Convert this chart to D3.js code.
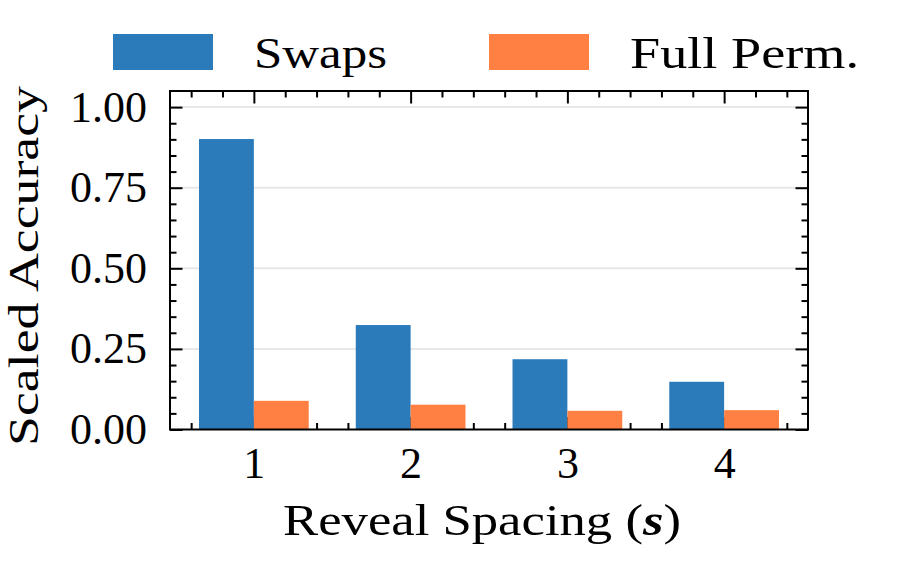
<!DOCTYPE html>
<html>
<head>
<meta charset="utf-8">
<script src="https://cdn.jsdelivr.net/npm/d3@7"></script>
<style>
body { margin: 0; background: #fff; }
svg text { font-family: "Liberation Serif", serif; fill: #000; }
.axis path.domain { display: none; }
.axis line { stroke: #000; stroke-width: 2; }
.axis text { font-family: "Liberation Serif", serif; font-size: 44px; }
</style>
</head>
<body>
<svg id="chart" width="900" height="571"></svg>
<script>
// data
const categories = ["1", "2", "3", "4"];
const swaps = [0.901, 0.324, 0.218, 0.148];
const fullPerm = [0.089, 0.077, 0.058, 0.060];
const seriesNames = ["Swaps", "Full Perm."];
const yTicks = [0, 0.25, 0.5, 0.75, 1.0];
const yTickLabels = ["0.00", "0.25", "0.50", "0.75", "1.00"];
const colors = ["#2b7bba", "#ff8042"];

const svg = d3.select("#chart");
const mLeft = 170, mRight = 808, mTop = 91, mBottom = 429.5;
const barW = 0.35;

let x = d3.scaleLinear().domain([-0.535, 3.535]).range([mLeft, mRight]);
let y = d3.scaleLinear().domain([0, 1.05]).range([mBottom, mTop]);

// gridlines (behind everything)
svg.append("g")
  .selectAll("line")
  .data(yTicks.filter(d => d > 0))
  .enter()
  .append("line")
  .attr("x1", mLeft).attr("x2", mRight)
  .attr("y1", d => y(d)).attr("y2", d => y(d))
  .attr("stroke", "#e8e8e8")
  .attr("stroke-width", 2);

// minor tick positions
const yMinor = d3.range(0.05, 1.05, 0.05).filter(d => Math.abs(d / 0.25 - Math.round(d / 0.25)) > 1e-6);
const xMinor = d3.range(-0.4, 3.41, 0.2).filter(d => Math.abs(d - Math.round(d)) > 1e-6);

// y axis left (major with labels)
svg.append("g")
  .attr("class", "axis")
  .attr("transform", "translate(" + mLeft + ",0)")
  .call(d3.axisLeft(y).tickValues(yTicks).tickFormat((d, i) => yTickLabels[i]).tickSize(-12.5).tickPadding(23));
svg.append("g")
  .attr("class", "axis")
  .attr("transform", "translate(" + mLeft + ",0)")
  .call(d3.axisLeft(y).tickValues(yMinor).tickFormat("").tickSize(-6.5));

// y axis right (mirrored ticks)
svg.append("g")
  .attr("class", "axis")
  .attr("transform", "translate(" + mRight + ",0)")
  .call(d3.axisRight(y).tickValues(yTicks).tickFormat("").tickSize(-12.5));
svg.append("g")
  .attr("class", "axis")
  .attr("transform", "translate(" + mRight + ",0)")
  .call(d3.axisRight(y).tickValues(yMinor).tickFormat("").tickSize(-6.5));

// x axis bottom
svg.append("g")
  .attr("class", "axis")
  .attr("transform", "translate(0," + mBottom + ")")
  .call(d3.axisBottom(x).tickValues([0, 1, 2, 3]).tickFormat((d, i) => categories[i]).tickSize(-12.5).tickPadding(17));
svg.append("g")
  .attr("class", "axis")
  .attr("transform", "translate(0," + mBottom + ")")
  .call(d3.axisBottom(x).tickValues(xMinor).tickFormat("").tickSize(-6.5));

// x axis top
svg.append("g")
  .attr("class", "axis")
  .attr("transform", "translate(0," + mTop + ")")
  .call(d3.axisTop(x).tickValues([0, 1, 2, 3]).tickFormat("").tickSize(-12.5));
svg.append("g")
  .attr("class", "axis")
  .attr("transform", "translate(0," + mTop + ")")
  .call(d3.axisTop(x).tickValues(xMinor).tickFormat("").tickSize(-6.5));

// bars
const series = [swaps, fullPerm];
series.forEach(function(vals, s) {
  svg.append("g")
    .selectAll("rect")
    .data(vals)
    .enter()
    .append("rect")
    .attr("x", (d, i) => x(i + (s === 0 ? -barW : 0)))
    .attr("width", x(barW) - x(0))
    .attr("y", d => y(d))
    .attr("height", d => y(0) - y(d))
    .attr("fill", colors[s]);
});

// spines on top
svg.append("rect")
  .attr("x", mLeft).attr("y", mTop)
  .attr("width", mRight - mLeft).attr("height", mBottom - mTop)
  .attr("fill", "none")
  .attr("stroke", "#000")
  .attr("stroke-width", 2);

// axis titles
svg.append("text")
  .attr("transform", "translate(38,266) rotate(-90)")
  .attr("text-anchor", "middle")
  .attr("font-size", 42)
  .attr("textLength", 360)
  .attr("lengthAdjust", "spacingAndGlyphs")
  .text("Scaled Accuracy");

let xl = svg.append("text")
  .attr("x", 482).attr("y", 535)
  .attr("text-anchor", "middle")
  .attr("font-size", 44)
  .attr("textLength", 398)
  .attr("lengthAdjust", "spacingAndGlyphs");
xl.append("tspan").text("Reveal Spacing (");
xl.append("tspan").attr("font-style", "italic").attr("font-weight", "bold").text("s");
xl.append("tspan").text(")");

// legend
const legX = [113, 489];
const legTextW = [133, 229];
seriesNames.forEach(function(name, i) {
  svg.append("rect")
    .attr("x", legX[i]).attr("y", 34)
    .attr("width", 100).attr("height", 36)
    .attr("fill", colors[i]);
  svg.append("text")
    .attr("x", legX[i] + 141).attr("y", 68)
    .attr("font-size", 44)
    .attr("textLength", legTextW[i])
    .attr("lengthAdjust", "spacingAndGlyphs")
    .text(name);
});
</script>
</body>
</html>
